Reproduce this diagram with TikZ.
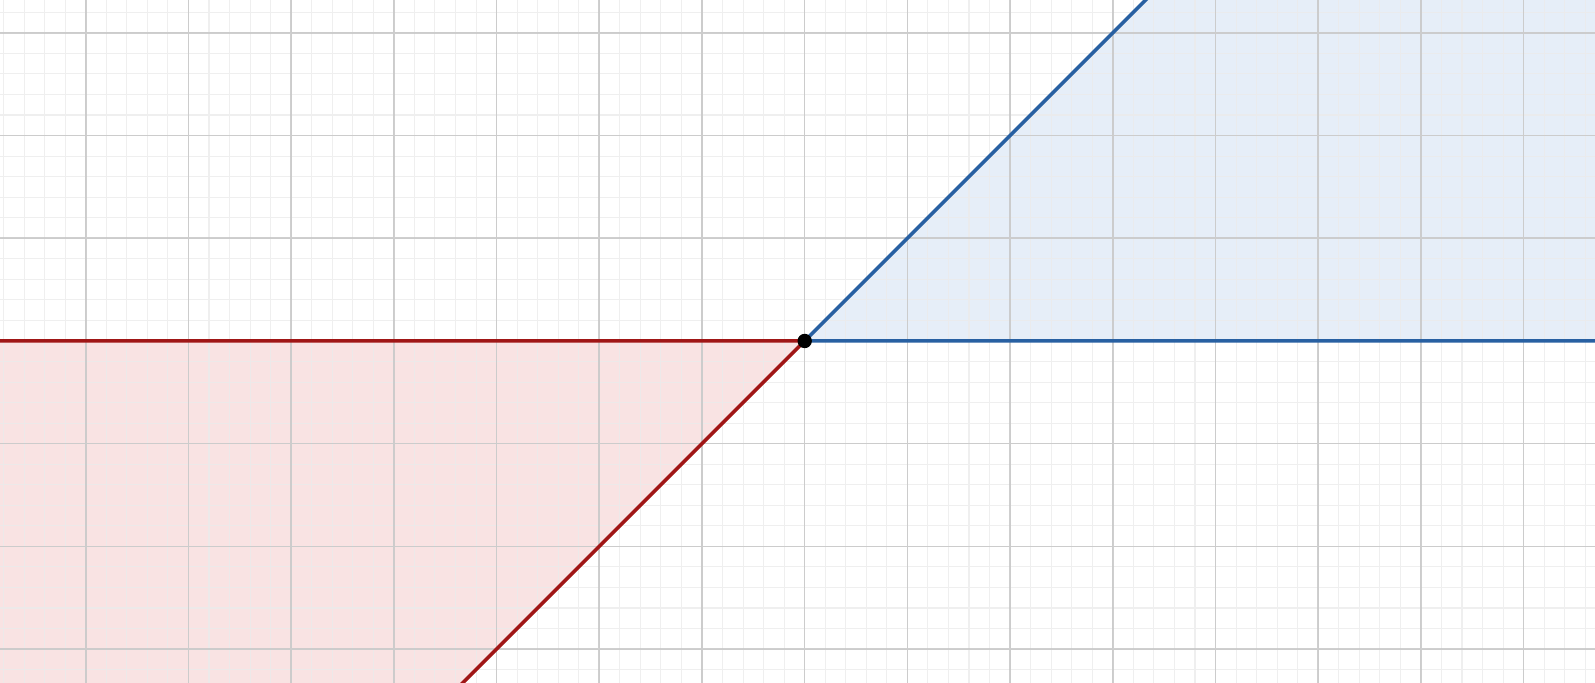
\documentclass[tikz,border=0pt]{standalone}
\usepackage[rgb]{xcolor}
\usetikzlibrary{calc}
\definecolor{lineblue}{RGB}{40,96,162}
\definecolor{linered}{RGB}{160,22,22}
\definecolor{fillblue}{RGB}{230,238,248}
\definecolor{fillred}{RGB}{249,227,227}
\tikzset{>=latex}
\tikzset{minorgrid/.style={draw=black!8, line width=0.3pt}}
\tikzset{majorgrid/.style={draw=black!22, line width=0.45pt}}
\tikzset{edge/.style={line width=1pt, line cap=round, line join=round}}
\begin{document}
\begin{tikzpicture}[x=1.027cm, y=1.027cm]
        \coordinate (O) at (0, 0); %
        \coordinate (SW) at (-7.835, -3.330); %
        \coordinate (NE) at (7.695, 3.320); %
        \coordinate (far) at (8, 0); %
        \coordinate (up) at (0, 4); %
        \useasboundingbox (SW) rectangle (NE); %
        \begin{scope}
          \clip (SW) rectangle (NE); %
          \fill[white] (SW) rectangle (NE); %
          % the two regions
          \fill[fillblue] (O) -- (4, 4) -- ($(far)+(up)$) -- (far) -- cycle; %
          \fill[fillred] (O) -- ($-1*(far)$) -- ($-1*(far)-(up)$) -- (-4, -4) -- cycle; %
          \begin{scope}[opacity=0.8]
            \draw[minorgrid] (-9, -5) grid[step=0.2] (9, 5); %
          \end{scope}
          \begin{scope}[opacity=0.85]
            \draw[majorgrid] (-9, -5) grid[step=1] (9, 5); %
          \end{scope}
          \draw[edge, lineblue] (4, 4) -- (O) -- (far); %
          \draw[edge, linered] ($-1*(far)$) -- (O) -- (-4, -4); %
        \end{scope}
        \fill[black] (O) circle (0.07); %
      \end{tikzpicture}
\end{document}
